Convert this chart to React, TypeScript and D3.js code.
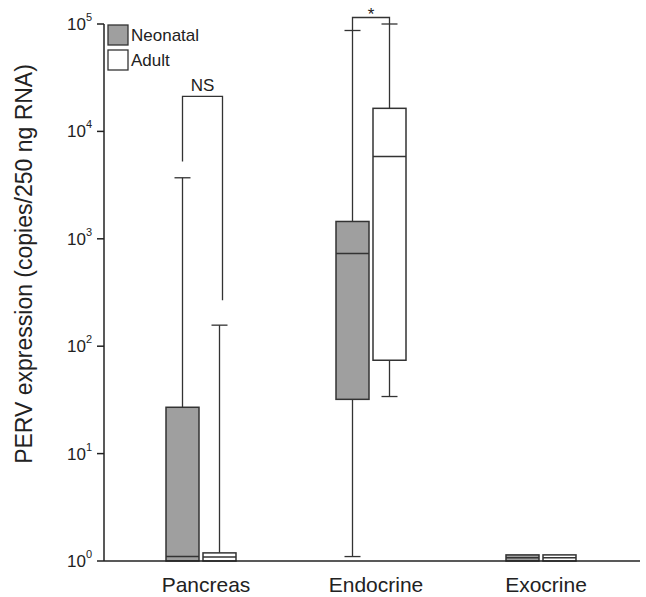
import React from 'react';
import * as d3 from 'd3';

const categories = ['Pancreas', 'Endocrine', 'Exocrine'];
const seriesNames = ['Neonatal', 'Adult'];

const neonatalMin = [1, 1.1, 1];
const neonatalQ1 = [1, 32, 1];
const neonatalMedian = [1.1, 730, 1.07];
const neonatalQ3 = [27, 1450, 1.14];
const neonatalMax = [3700, 87000, 1.14];

const adultMin = [1, 34, 1];
const adultQ1 = [1, 74, 1];
const adultMedian = [1.09, 5850, 1.07];
const adultQ3 = [1.19, 16400, 1.14];
const adultMax = [157, 100000, 1.14];

const tickExponents = [0, 1, 2, 3, 4, 5];

// significance brackets: [category, top value, left leg end, right leg end, label]
const sigCategories = ['Pancreas', 'Endocrine'];
const sigTop = [21200, 115000];
const sigLeftEnd = [4430, 87000];
const sigRightEnd = [268, 100000];
const sigLabels = ['NS', '*'];

const W = 646;
const H = 597;
const FONT = '"Liberation Sans", Arial, Helvetica, sans-serif';

export default function App() {
  const y = d3.scaleLog().domain([1, 1e5]).range([561, 24]);
  const x = d3.scaleBand().domain(categories).range([116, 626]);
  const cx = (c: string) => (x(c) as number) + x.bandwidth() / 2;
  const axisX = 104;

  const series = [
    { name: 'Neonatal', fill: '#9f9f9f', min: neonatalMin, q1: neonatalQ1, med: neonatalMedian, q3: neonatalQ3, max: neonatalMax, off0: -35, off1: -2 },
    { name: 'Adult', fill: '#ffffff', min: adultMin, q1: adultQ1, med: adultMedian, q3: adultQ3, max: adultMax, off0: 2, off1: 35 },
  ];

  const stroke = '#333';
  const capHalf = 8;

  return (
    <svg width={W} height={H} style={{ position: 'absolute', left: 0, top: 0, background: '#fff' }} fontFamily={FONT}>
      {/* boxes */}
      {series.map((s) =>
        categories.map((c, i) => {
          const x0 = cx(c) + s.off0;
          const x1 = cx(c) + s.off1;
          const xm = (x0 + x1) / 2;
          const yq1 = y(s.q1[i]);
          const yq3 = y(s.q3[i]);
          const ymed = y(s.med[i]);
          const ymax = y(s.max[i]);
          const ymin = y(s.min[i]);
          return (
            <g key={s.name + c}>
              {s.max[i] > s.q3[i] && (
                <g stroke={stroke} strokeWidth={1.3}>
                  <line x1={xm} x2={xm} y1={yq3} y2={ymax} />
                  <line x1={xm - capHalf} x2={xm + capHalf} y1={ymax} y2={ymax} />
                </g>
              )}
              {s.min[i] < s.q1[i] && (
                <g stroke={stroke} strokeWidth={1.3}>
                  <line x1={xm} x2={xm} y1={yq1} y2={ymin} />
                  <line x1={xm - capHalf} x2={xm + capHalf} y1={ymin} y2={ymin} />
                </g>
              )}
              <rect x={x0} y={yq3} width={x1 - x0} height={yq1 - yq3} fill={s.fill} stroke={stroke} strokeWidth={1.5} />
              <line x1={x0} x2={x1} y1={ymed} y2={ymed} stroke={stroke} strokeWidth={1.5} />
            </g>
          );
        })
      )}

      {/* significance brackets */}
      {sigCategories.map((c, i) => {
        const xl = cx(c) + (series[0].off0 + series[0].off1) / 2;
        const xr = cx(c) + (series[1].off0 + series[1].off1) / 2 + (i === 0 ? 3 : 0);
        const yt = y(sigTop[i]);
        const yl = y(sigLeftEnd[i]) - (i === 0 ? 8 : 0);
        const yr = y(sigRightEnd[i]);
        return (
          <g key={'sig' + c}>
            <path d={`M${xl},${yl}V${yt}H${xr}V${yr}`} fill="none" stroke={stroke} strokeWidth={1.3} />
            <text x={(xl + xr) / 2} y={i === 0 ? yt - 5 : yt + 3} textAnchor="middle" fontSize={17} fill="#222">
              {sigLabels[i]}
            </text>
          </g>
        );
      })}

      {/* axes */}
      <line x1={axisX} x2={axisX} y1={y(1e5)} y2={y(1)} stroke="#222" strokeWidth={1.5} />
      <line x1={axisX} x2={640} y1={y(1)} y2={y(1)} stroke="#222" strokeWidth={1.5} />
      {tickExponents.map((e) => (
        <g key={'t' + e}>
          <line x1={axisX - 7} x2={axisX} y1={y(Math.pow(10, e))} y2={y(Math.pow(10, e))} stroke="#222" strokeWidth={1.5} />
          <text x={92} y={y(Math.pow(10, e)) + 6} textAnchor="end" fontSize={17} fill="#222">
            10
            <tspan fontSize={11} dy={-9}>{e}</tspan>
          </text>
        </g>
      ))}

      {/* category labels */}
      {categories.map((c) => (
        <text key={'c' + c} x={cx(c) + 5} y={592} textAnchor="middle" fontSize={21} fill="#222">
          {c}
        </text>
      ))}

      {/* y label */}
      <text transform="translate(32,264) rotate(-90)" textAnchor="middle" fontSize={23} fill="#222">
        PERV expression (copies/250 ng RNA)
      </text>

      {/* legend */}
      {seriesNames.map((n, i) => (
        <g key={'l' + n}>
          <rect x={108} y={25 + i * 25} width={20} height={20} fill={series[i].fill} stroke={stroke} strokeWidth={1.3} />
          <text x={131} y={41 + i * 25} fontSize={17} fill="#222">{n}</text>
        </g>
      ))}
    </svg>
  );
}
